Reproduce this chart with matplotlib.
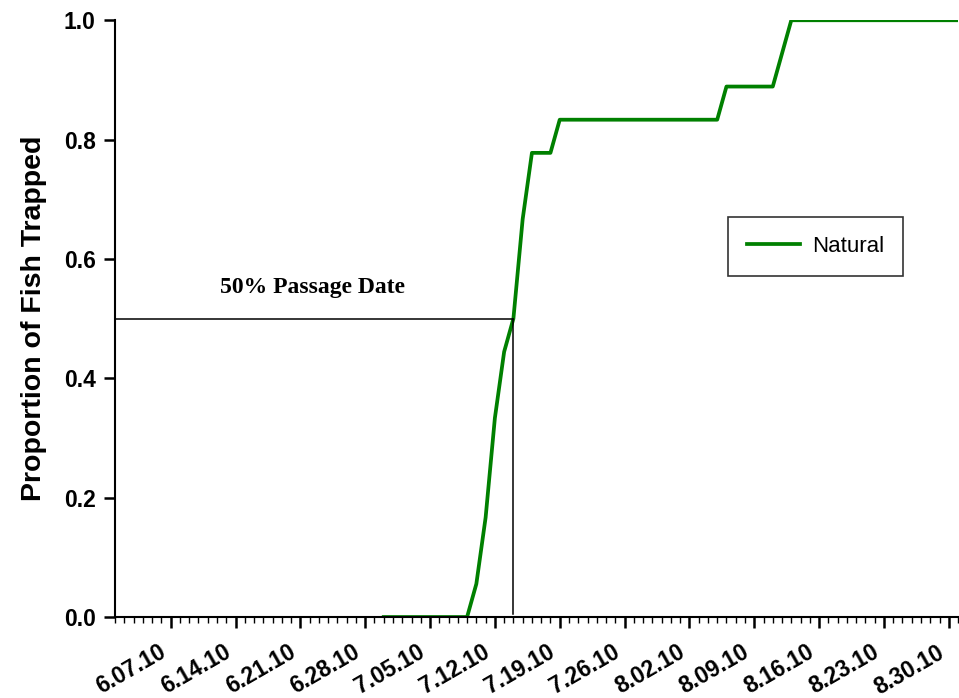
import numpy as np
import pandas as pd
import matplotlib
matplotlib.use('Agg')
import matplotlib.pyplot as plt
import matplotlib.dates as mdates
from matplotlib.transforms import ScaledTranslation

# Dados da curva acumulada (proporcao de peixes capturados)
datas = ['2010-06-30', '2010-07-09', '2010-07-10', '2010-07-11', '2010-07-12',
         '2010-07-13', '2010-07-14', '2010-07-15', '2010-07-16', '2010-07-18',
         '2010-07-19', '2010-08-05', '2010-08-06', '2010-08-11', '2010-08-13',
         '2010-08-31']
proporcao = [0.0, 0.0, 1/18, 3/18, 6/18,
             8/18, 9/18, 12/18, 14/18, 14/18,
             15/18, 15/18, 16/18, 16/18, 1.0,
             1.0]

# Data de passagem 50%
data_50 = '2010-07-14'
nivel_50 = 0.5

# Eixo x
inicio, fim = '2010-06-01', '2010-08-31'
ticks_datas = ['2010-06-07', '2010-06-14', '2010-06-21', '2010-06-28', '2010-07-05',
               '2010-07-12', '2010-07-19', '2010-07-26', '2010-08-02', '2010-08-09',
               '2010-08-16', '2010-08-23', '2010-08-30']
ticks_nomes = ['6.07.10', '6.14.10', '6.21.10', '6.28.10', '7.05.10', '7.12.10',
               '7.19.10', '7.26.10', '8.02.10', '8.09.10', '8.16.10', '8.23.10', '8.30.10']

x = pd.to_datetime(datas)

fig = plt.figure(figsize=(9.59, 6.98), dpi=100)
ax = fig.add_axes([0.12, 0.116, 0.879, 0.855])

ax.plot(x, proporcao, color='#008000', lw=2.7, label='Natural')

# Linhas da data de 50%
ax.plot([pd.Timestamp(inicio), pd.Timestamp(data_50)], [nivel_50, nivel_50], color='black', lw=1.1)
ax.plot([pd.Timestamp(data_50), pd.Timestamp(data_50)], [nivel_50, 0.005], color='black', lw=1.1)
ax.text(pd.Timestamp('2010-06-22 08:00'), 0.553, '50% Passage Date', family='Liberation Serif',
        fontweight='bold', fontsize=17, ha='center', va='center')

ax.set_xlim(pd.Timestamp(inicio), pd.Timestamp(fim))
ax.set_ylim(0, 1.0)
ax.set_yticks(np.arange(0, 1.01, 0.2))
ax.set_yticklabels(['%.1f' % v for v in np.arange(0, 1.01, 0.2)])

ax.set_xticks(pd.to_datetime(ticks_datas))
ax.set_xticklabels(ticks_nomes, rotation=30, ha='right', va='top', rotation_mode='anchor')
ax.xaxis.set_minor_locator(mdates.DayLocator())

for s in ['top', 'right']:
    ax.spines[s].set_visible(False)
for s in ['left', 'bottom']:
    ax.spines[s].set_linewidth(1.5)

ax.tick_params(axis='both', which='major', direction='out', length=8, width=1.8,
               labelsize=16.5)
ax.tick_params(axis='x', which='minor', direction='out', length=4, width=1)
ax.tick_params(axis='x', which='major', pad=9, labelsize=16.5)
ax.tick_params(axis='y', which='major', pad=6)
desloc = ScaledTranslation(-9/72, 0, fig.dpi_scale_trans)
for lab in ax.get_xticklabels():
    lab.set_transform(lab.get_transform() + desloc)
for lab in ax.get_xticklabels() + ax.get_yticklabels():
    lab.set_family('Liberation Sans')
    lab.set_fontweight('bold')

ax.set_ylabel('Proportion of Fish Trapped', family='Liberation Sans', fontweight='bold',
              fontsize=20.5, labelpad=12)

leg = ax.legend(loc='upper left', bbox_to_anchor=(0.727, 0.67), frameon=True, fancybox=False,
                prop={'family': 'Liberation Sans', 'size': 16}, handlelength=2.4,
                borderpad=0.85, handletextpad=0.55, borderaxespad=0, edgecolor='black')
leg.get_frame().set_linewidth(1.2)

fig.savefig('out.png', dpi=100)
